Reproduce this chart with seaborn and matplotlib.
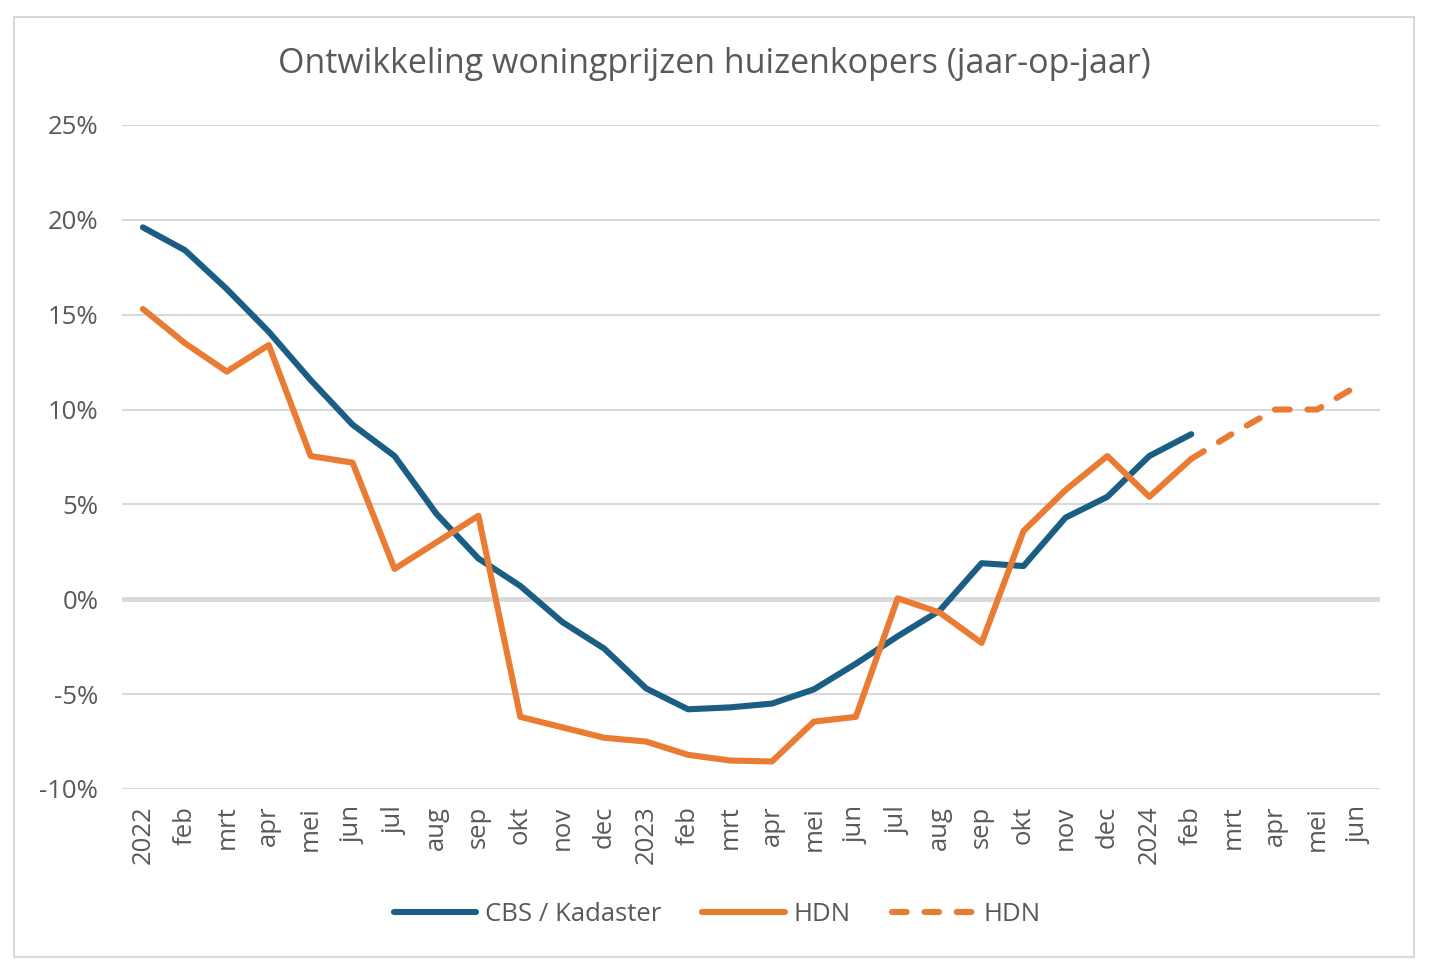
import matplotlib
matplotlib.use("Agg")
import matplotlib.pyplot as plt
import matplotlib.patches as mpatches
from matplotlib.ticker import FuncFormatter
import seaborn as sns
import pandas as pd
import numpy as np

months = ['2022', 'feb', 'mrt', 'apr', 'mei', 'jun', 'jul', 'aug', 'sep', 'okt', 'nov', 'dec',
          '2023', 'feb', 'mrt', 'apr', 'mei', 'jun', 'jul', 'aug', 'sep', 'okt', 'nov', 'dec',
          '2024', 'feb', 'mrt', 'apr', 'mei', 'jun']

# jaar-op-jaar in procenten
cbs = [19.6, 18.4, 16.35, 14.1, 11.55, 9.2, 7.55, 4.5, 2.15, 0.7, -1.2, -2.6,
       -4.7, -5.8, -5.7, -5.5, -4.75, -3.4, -1.95, -0.6, 1.9, 1.75, 4.3, 5.4,
       7.55, 8.7]
hdn = [15.3, 13.5, 12.0, 13.4, 7.55, 7.2, 1.6, 3.0, 4.4, -6.2, -6.75, -7.3,
       -7.5, -8.2, -8.5, -8.55, -6.45, -6.2, 0.05, -0.7, -2.3, 3.6, 5.75, 7.55,
       5.4, 7.4]
# prognose HDN vanaf feb 2024
hdn_prog = [7.4, 8.75, 10.0, 10.0, 11.3]

blue = '#1b5e84'
orange = '#e97b32'
grey_text = '#595959'

sns.set_theme(style='white')
plt.rcParams['font.family'] = ['Open Sans', 'DejaVu Sans']

df_cbs = pd.DataFrame({'x': np.arange(len(cbs)), 'y': cbs})
df_hdn = pd.DataFrame({'x': np.arange(len(hdn)), 'y': hdn})
df_prog = pd.DataFrame({'x': np.arange(len(hdn) - 1, len(hdn) - 1 + len(hdn_prog)), 'y': hdn_prog})

fig = plt.figure(figsize=(14.4, 9.61), dpi=100)
ax = fig.add_axes([0.0847, 0.179, 0.8736, 0.691])

# rand om de grafiek
fig.patches.append(mpatches.Rectangle((14 / 1440, 1 - 957 / 961), 1400 / 1440, 940 / 961,
                                      transform=fig.transFigure, fill=False,
                                      edgecolor='#d9d9d9', linewidth=1.5, zorder=0))

for v in range(-10, 30, 5):
    ax.axhline(v, color='#d9d9d9', linewidth=3.5 if v == 0 else 1.5, zorder=0)

lw = 4.4
sns.lineplot(data=df_cbs, x='x', y='y', ax=ax, color=blue, linewidth=lw,
             label='CBS / Kadaster', solid_capstyle='round', solid_joinstyle='round')
sns.lineplot(data=df_hdn, x='x', y='y', ax=ax, color=orange, linewidth=lw,
             label='HDN', solid_capstyle='round', solid_joinstyle='round')
sns.lineplot(data=df_prog, x='x', y='y', ax=ax, color=orange, linewidth=lw,
             label='HDN', linestyle=(0, (2.4, 2.9)), dash_capstyle='round')

ax.set_xlim(-0.5, 29.5)
ax.set_ylim(-10, 25)
ax.set_yticks(range(-10, 30, 5))
ax.yaxis.set_major_formatter(FuncFormatter(lambda v, p: f'{int(v)}%'))
ax.set_xticks(range(len(months)))
ax.set_xticklabels(months, rotation=90)
ax.tick_params(axis='both', labelsize=18.5, colors=grey_text, length=0)
ax.tick_params(axis='y', pad=17)
ax.tick_params(axis='x', pad=12)
ax.set_xlabel('')
ax.set_ylabel('')
for s in ax.spines.values():
    s.set_visible(False)

fig.text(0.496, 1 - 64 / 961, 'Ontwikkeling woningprijzen huizenkopers (jaar-op-jaar)',
         fontsize=24.5, color=grey_text, ha='center', va='center')

leg = ax.legend(loc='center', bbox_to_anchor=(0.473, -0.189), ncol=3, frameon=False,
                fontsize=18.5, handlelength=3.2, columnspacing=1.6, handletextpad=0.35)
for t in leg.get_texts():
    t.set_color(grey_text)

fig.savefig('out.png', dpi=100)
